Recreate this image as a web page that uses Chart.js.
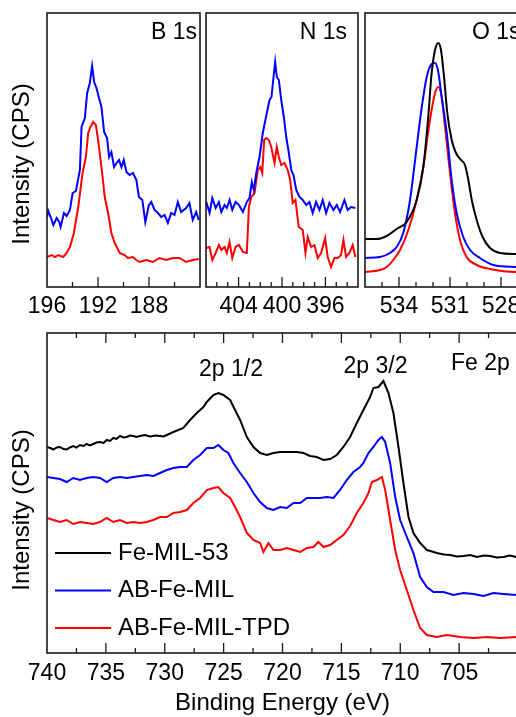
<!DOCTYPE html>
<html lang="en">
<head>
<meta charset="UTF-8">
<title>XPS spectra</title>
<script src="https://cdn.jsdelivr.net/npm/chart.js"></script>
<style>
  body { margin: 0; background: #fff; }
  #wrap { position: relative; width: 516px; height: 717px; overflow: hidden; background: #fff; }
  #wrap canvas { position: absolute; }
</style>
</head>
<body>
<div id="wrap">
  <canvas id="cB" width="225" height="330" style="left:0;top:0"></canvas>
  <canvas id="cN" width="212" height="330" style="left:176px;top:0"></canvas>
  <canvas id="cO" width="210" height="330" style="left:335px;top:0"></canvas>
  <canvas id="cFe" width="543" height="394" style="left:0;top:323px"></canvas>
</div>
<script>
// binding energy (eV) and intensity (arb. units)

// B 1s
const b1sBlueE = [196.0,195.9,195.63,195.5,195.24,195.04,194.93,194.67,194.46,194.2,193.99,193.73,193.42,193.29,193.03,192.85,192.64,192.46,192.3,192.12,191.94,191.73,191.52,191.29,191.13,190.95,190.74,190.55,190.35,190.16,189.98,189.77,189.52,189.26,188.99,188.79,188.52,188.29,188.01,187.82,187.56,187.3,187.04,186.78,186.52,186.26,186.0,185.74,185.48,185.09,184.83,184.57,184.3,184.1];
const b1sBlueI = [70,76,67,62,69,65,60,74,71,77,94,96,117,160,169,194,204,221,205,199,190,180,155,149,130,135,120,124,127,120,127,115,112,114,107,90,87,65,82,85,77,74,70,72,64,74,72,85,75,79,84,67,75,67];
const b1sRedE = [196.0,195.63,195.38,195.12,194.73,194.46,194.2,193.89,193.55,193.21,192.95,192.77,192.59,192.38,192.17,191.99,191.73,191.47,191.21,190.95,190.69,190.3,189.91,189.65,189.26,189.0,188.73,188.21,187.7,187.17,186.65,186.13,185.61,185.09,184.57,184.1];
const b1sRedI = [30,32,30,32,30,34,40,54,80,114,130,154,160,165,162,147,120,90,74,54,44,34,32,29,30,27,25,27,25,29,27,29,29,25,27,28];

// N 1s
const n1sBlueE = [406.97,406.67,406.42,406.11,405.81,405.59,405.29,405.08,404.83,404.58,404.28,403.97,403.6,403.24,402.99,402.78,402.59,402.37,402.07,401.77,401.4,401.15,400.97,400.78,400.63,400.48,400.29,400.07,399.83,399.61,399.37,399.15,398.94,398.69,398.39,398.09,397.77,397.47,397.17,396.86,396.55,396.25,395.94,395.63,395.26,394.96,394.65,394.25,393.95,393.64,393.24];
const n1sBlueI = [85,74,89,79,85,75,82,79,87,77,85,82,75,85,89,105,97,114,130,154,174,187,190,210,225,210,207,187,170,150,134,117,112,97,90,87,82,85,74,85,77,87,74,84,77,82,75,87,77,80,79];
const n1sRedE = [406.97,406.67,406.42,406.11,405.81,405.59,405.29,405.08,404.83,404.58,404.28,403.97,403.6,403.24,403.05,402.83,402.53,402.23,402.0,401.82,401.64,401.45,401.21,400.99,400.69,400.48,400.29,400.07,399.77,399.47,399.25,399.01,398.76,398.46,398.09,397.84,397.63,397.31,397.01,396.71,396.4,396.03,395.79,395.48,395.17,394.87,394.56,394.34,394.1,393.79,393.49,393.24];
const n1sRedI = [39,40,27,34,42,37,40,34,45,29,40,42,35,34,80,90,94,117,120,114,147,149,147,140,124,140,130,122,124,117,107,84,87,60,57,34,50,40,42,29,34,49,30,20,29,29,32,47,30,34,42,30];

// O 1s
const o1sBlackE = [536.0,535.31,534.72,534.14,533.55,532.96,532.57,532.28,532.08,531.88,531.69,531.53,531.35,531.16,530.9,530.65,530.35,530.12,529.92,529.72,529.43,529.08,528.65,528.06,527.12,526.0];
const o1sBlackI = [48,48,51,58,65,87,120,170,214,237,244,237,210,174,147,134,127,122,107,87,67,50,39,34,33,32.5];
const o1sBlueE = [536.0,535.12,534.53,534.14,533.75,533.35,532.96,532.66,532.37,532.08,531.88,531.69,531.49,531.19,530.9,530.61,530.22,529.82,529.24,528.45,527.12,526.0];
const o1sBlueI = [29,30,34,40,54,87,140,180,210,223,224,215,190,154,107,74,50,37,29,22,20,19.5];
const o1sRedE = [536.0,535.12,534.72,534.34,533.94,533.45,532.96,532.57,532.18,531.88,531.69,531.49,531.29,531.0,530.71,530.41,530.02,529.43,528.65,527.12,526.0];
const o1sRedI = [15,17,20,27,37,57,87,120,167,194,200,190,160,114,74,47,30,22,18,15,15];

// Fe 2p
const fe2pBlackE = [740,739.72,739.46,739.18,738.9,738.6,738.33,738.05,737.77,737.5,737.2,736.9,736.63,736.35,736.07,735.8,735.5,735.2,734.93,734.65,734.37,734.1,733.8,733.5,733.23,732.95,732.67,732.4,732.1,731.7,731.25,730.8,730.4,730.1,729.83,729.27,728.42,727.85,727.28,726.72,726.43,725.87,725.45,725.02,724.45,724.03,723.6,723.03,722.47,721.9,721.33,720.77,720.2,719.63,718.79,718.22,717.66,717.09,716.52,715.96,715.39,714.83,714.26,713.69,713.13,712.56,712.28,711.85,711.43,711.0,710.58,710.15,709.73,709.3,708.88,708.31,707.74,707.3,706.89,706.3,705.76,705.2,704.63,704.05,703.49,702.9,702.36,701.8,701.23,700.7,700.15];
const fe2pBlackI = [206,205,203.5,205.5,206,204,203.5,205.5,207,205.5,208,207,209,207.5,209,210.5,211,210,213,212,215,214,217,215.5,216,217.5,217,216,217,218,216.5,217.5,217,216.5,218,221,225,233,240,246,251,258,260,258,253,243,233,216,206,200,198,200,201,201,201,200,197,196,193,194,198,206,216,230,243,256,265,266,272,260,240,206,170,136,120,110,103,101.5,100,98.5,98,96.5,97,98,96,97.5,97,95.5,96,97.5,96];
const fe2pBlueE = [740,739.46,738.9,738.33,737.77,737.2,736.63,736.07,735.5,734.93,734.37,733.8,733.23,732.67,732.1,731.53,730.97,730.4,729.83,729.27,728.7,728.13,727.57,727.0,726.43,725.87,725.45,725.02,724.6,724.17,723.6,723.03,722.47,721.9,721.33,720.77,720.2,719.63,719.07,718.5,717.93,717.37,716.81,716.24,715.67,715.11,714.54,713.98,713.41,713.13,712.7,712.28,711.85,711.56,711.28,710.86,710.43,710.01,709.44,708.88,708.31,707.74,707.18,706.33,705.48,704.63,703.78,702.93,702.08,701.23,700.15];
const fe2pBlueI = [176,175,174,171,175,173,175,176,175,171,175,176,175,176,177,178,177,180,183,185,186,186,193,198,205,205,208,203,200,190,180,171,160,151,145,143,146,145,150,150,155,155,155,156,155,163,173,181,186,190,200,206,213,216,211,190,156,133,116,100,76,66,61,61,58,60,59,57,60,59,58];
const fe2pRedE = [740,739.46,738.9,738.33,737.77,737.2,736.63,736.07,735.5,734.93,734.37,733.8,733.23,732.67,732.1,731.53,730.97,730.4,729.83,729.27,728.7,728.13,727.57,727.0,726.43,725.87,725.45,725.02,724.45,724.03,723.6,723.03,722.47,721.9,721.62,721.2,720.77,720.2,719.63,719.07,718.5,717.93,717.37,716.95,716.52,715.96,715.39,714.83,714.26,713.69,713.13,712.7,712.41,711.99,711.56,711.28,710.86,710.43,710.01,709.44,708.88,708.31,707.74,706.89,706.04,704.91,703.78,702.64,701.51,700.15];
const fe2pRedI = [135,133,131,133,129,131,130,129,131,135,131,133,130,131,130,131,133,136,136,140,141,143,150,155,163,165,166,160,155,146,136,120,113,110,101,110,103,103,105,103,101,105,106,111,106,108,113,118,127,140,150,160,171,173,176,163,133,103,83,63,43,25,18,16,18,16,15,16,15,16];

const seriesNames = ['Fe-MIL-53', 'AB-Fe-MIL', 'AB-Fe-MIL-TPD'];
const seriesColors = ['#000000', '#0000ff', '#ff0000'];

const FONT = "'Liberation Sans', Arial, sans-serif";

function pairs(xs, ys) {
    const n = Math.min(xs.length, ys.length);
    const out = [];
    for (let i = 0; i < n; i++) out.push({x: xs[i], y: ys[i]});
    return out;
}

function line(label, color, xs, ys, smooth) {
    return {
        label: label,
        data: pairs(xs, ys),
        borderColor: color,
        borderWidth: 2,
        pointRadius: 0,
        fill: false,
        tension: smooth ? 0.35 : 0,
        cubicInterpolationMode: smooth ? 'monotone' : 'default'
    };
}

// frame, inward ticks and free text
const framePlugin = {
    id: 'frame',
    afterDatasetsDraw(chart, args, opts) {
        const ctx = chart.ctx;
        const a = chart.chartArea;
        const xs = chart.scales.x;
        ctx.save();
        ctx.strokeStyle = '#1a1a1a';
        ctx.lineWidth = 1.3;
        xs.ticks.forEach(t => {
            const px = xs.getPixelForValue(t.value);
            if (px <= a.left + 1 || px >= a.right - 1) return;
            const q = (t.value - opts.majorFrom) / opts.majorStep;
            const len = Math.abs(q - Math.round(q)) < 1e-6 ? 10 : 5;
            ctx.beginPath();
            ctx.moveTo(px, a.bottom);
            ctx.lineTo(px, a.bottom - len);
            if (opts.topTicks) {
                ctx.moveTo(px, a.top);
                ctx.lineTo(px, a.top + len);
            }
            ctx.stroke();
        });
        ctx.lineWidth = 1.6;
        ctx.strokeRect(a.left, a.top, a.right - a.left, a.bottom - a.top);

        ctx.fillStyle = '#000';
        ctx.textBaseline = 'middle';
        (opts.texts || []).forEach(tx => {
            ctx.save();
            ctx.font = tx.size + 'px ' + FONT;
            ctx.textAlign = tx.align || 'left';
            ctx.translate(tx.x, tx.y);
            if (tx.rotate) ctx.rotate(-Math.PI / 2);
            ctx.fillText(tx.text, 0, 0);
            ctx.restore();
        });

        if (opts.legend) {
            const lg = opts.legend;
            ctx.font = '24px ' + FONT;
            ctx.textAlign = 'left';
            chart.data.datasets.forEach((ds, i) => {
                const y = a.top + lg.top + i * lg.gap;
                ctx.strokeStyle = ds.borderColor;
                ctx.lineWidth = 2;
                ctx.beginPath();
                ctx.moveTo(a.left + lg.left, y);
                ctx.lineTo(a.left + lg.left + 56, y);
                ctx.stroke();
                ctx.fillText(ds.label, a.left + lg.left + 63, y);
            });
        }
        ctx.restore();
    }
};

function makeChart(id, datasets, xOpt, yMax, pad, axisH, frameOpts, title) {
    const majorStep = frameOpts.majorStep, majorFrom = frameOpts.majorFrom;
    return new Chart(document.getElementById(id), {
        type: 'line',
        data: {datasets: datasets},
        plugins: [framePlugin],
        options: {
            responsive: false,
            animation: false,
            layout: {padding: pad},
            plugins: {
                legend: {display: false},
                tooltip: {enabled: false},
                frame: frameOpts
            },
            scales: {
                x: {
                    type: 'linear',
                    reverse: true,
                    min: xOpt.min,
                    max: xOpt.max,
                    grid: {display: false, drawTicks: false},
                    border: {display: false},
                    ticks: {
                        stepSize: xOpt.step,
                        autoSkip: false,
                        maxRotation: 0,
                        padding: xOpt.pad,
                        color: '#000',
                        font: {family: FONT, size: 23},
                        callback: function (v) {
                            const q = (v - majorFrom) / majorStep;
                            if (Math.abs(q - Math.round(q)) > 1e-6) return '';
                            if (xOpt.hide.indexOf(v) >= 0) return '';
                            return String(v);
                        }
                    },
                    title: title ? {
                        display: true,
                        text: title,
                        color: '#000',
                        font: {family: FONT, size: 24},
                        padding: {top: 0, bottom: -1}
                    } : {display: false},
                    afterFit: function (scale) { scale.height = axisH; }
                },
                y: {display: false, min: 0, max: yMax}
            }
        }
    });
}

makeChart('cB', [
    line(seriesNames[1], seriesColors[1], b1sBlueE, b1sBlueI, false),
    line(seriesNames[2], seriesColors[2], b1sRedE, b1sRedI, false)
], {min: 184, max: 196, step: 2, hide: [184], pad: 6}, 274,
    {left: 47, right: 25, top: 13, bottom: 0}, 43,
    {majorStep: 4, majorFrom: 0, topTicks: false, texts: [
        {text: 'B 1s', x: 197, y: 32.5, align: 'right', size: 23},
        {text: 'Intensity (CPS)', x: 22, y: 164, align: 'center', size: 24, rotate: true}
    ]});

makeChart('cN', [
    line(seriesNames[1], seriesColors[1], n1sBlueE, n1sBlueI, false),
    line(seriesNames[2], seriesColors[2], n1sRedE, n1sRedI, false)
], {min: 393, max: 407, step: 1, hide: [], pad: 6}, 274,
    {left: 30, right: 30, top: 13, bottom: 0}, 43,
    {majorStep: 4, majorFrom: 0, topTicks: false, texts: [
        {text: 'N 1s', x: 171, y: 33, align: 'right', size: 23}
    ]});

makeChart('cO', [
    line(seriesNames[0], seriesColors[0], o1sBlackE, o1sBlackI, true),
    line(seriesNames[1], seriesColors[1], o1sBlueE, o1sBlueI, true),
    line(seriesNames[2], seriesColors[2], o1sRedE, o1sRedI, true)
], {min: 526, max: 536, step: 1, hide: [], pad: 6}, 274,
    {left: 30, right: 10, top: 13, bottom: 0}, 43,
    {majorStep: 3, majorFrom: 534, topTicks: false, texts: [
        {text: 'O 1s', x: 137, y: 33, align: 'left', size: 23}
    ]});

makeChart('cFe', [
    line(seriesNames[0], seriesColors[0], fe2pBlackE, fe2pBlackI, false),
    line(seriesNames[1], seriesColors[1], fe2pBlueE, fe2pBlueI, false),
    line(seriesNames[2], seriesColors[2], fe2pRedE, fe2pRedI, false)
], {min: 700, max: 740, step: 2.5, hide: [700], pad: 7}, 320,
    {left: 47, right: 25, top: 10, bottom: 0}, 64,
    {majorStep: 5, majorFrom: 0, topTicks: true,
     legend: {left: 8, top: 220, gap: 37.5},
     texts: [
        {text: '2p 1/2', x: 231, y: 47, align: 'center', size: 23},
        {text: '2p 3/2', x: 375.5, y: 43.5, align: 'center', size: 23},
        {text: 'Fe 2p', x: 451, y: 41, align: 'left', size: 23},
        {text: 'Intensity (CPS)', x: 22, y: 187, align: 'center', size: 24, rotate: true}
    ]}, 'Binding Energy (eV)');
</script>
</body>
</html>
